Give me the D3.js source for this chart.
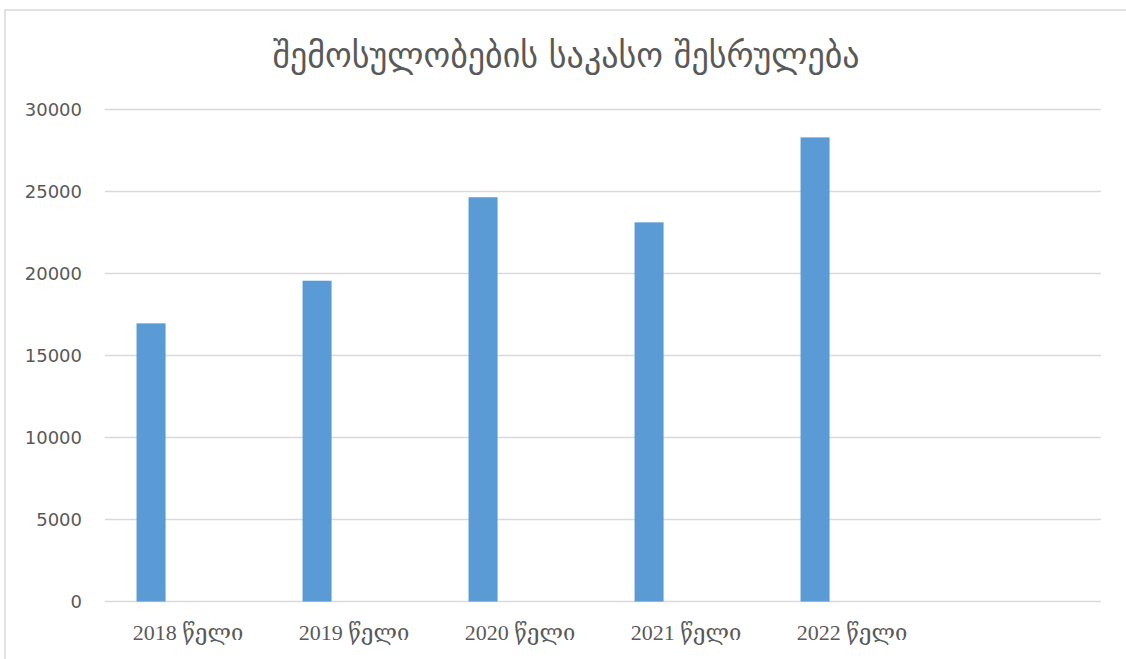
<!DOCTYPE html>
<html>
<head>
<meta charset="utf-8">
<script src="https://cdn.jsdelivr.net/npm/d3@7"></script>
<style>
  body { margin: 0; background: #fff; }
  svg { display: block; }
</style>
</head>
<body>
<div id="chart"></div>
<script>
const title = "შემოსულობების საკასო შესრულება";
// last slot is an empty category, as in the source workbook
const categories = ["2018 წელი", "2019 წელი", "2020 წელი", "2021 წელი", "2022 წელი", ""];
const values = [16960, 19560, 24650, 23120, 28300, null];
const yTicks = [0, 5000, 10000, 15000, 20000, 25000, 30000];

const W = 1126, H = 659;
const barColor = "#5b9bd5";
const gridColor = "#d9d9d9";
const textColor = "#595959";
const margins = { top: 109.5, bottom: 57.5, left: 105, right: 25 };

const svg = d3.select("#chart").append("svg")
  .attr("width", W)
  .attr("height", H);

// chart frame
svg.append("rect")
  .attr("x", 5).attr("y", 10)
  .attr("width", W + 20).attr("height", H + 20)
  .attr("fill", "#fff")
  .attr("stroke", gridColor)
  .attr("stroke-width", 1.5);

const x = d3.scaleBand()
  .domain(d3.range(categories.length))
  .range([margins.left, W - margins.right])
  .padding(0);

const y = d3.scaleLinear()
  .domain([0, 30000])
  .range([H - margins.bottom, margins.top]);

// bar sits left of the slot centre (other series are empty)
const barOffset = x.bandwidth() * 0.19;
const barWidth = x.bandwidth() * 0.175;

// gridlines
svg.append("g")
  .selectAll("line")
  .data(yTicks)
  .join("line")
  .attr("x1", margins.left)
  .attr("x2", W - margins.right)
  .attr("y1", d => y(d))
  .attr("y2", d => y(d))
  .attr("stroke", gridColor)
  .attr("stroke-width", 1.5);

// y labels
svg.append("g")
  .selectAll("text")
  .data(yTicks)
  .join("text")
  .attr("x", 82)
  .attr("y", d => y(d))
  .attr("dy", "0.36em")
  .attr("text-anchor", "end")
  .attr("fill", textColor)
  .style("font-family", "'DejaVu Sans', sans-serif")
  .style("font-size", "18px")
  .text(d => d);

// bars
svg.append("g")
  .selectAll("rect")
  .data(values.map((v, i) => ({ v, i })).filter(d => d.v != null))
  .join("rect")
  .attr("x", d => x(d.i) + barOffset)
  .attr("y", d => y(d.v))
  .attr("width", barWidth)
  .attr("height", d => y(0) - y(d.v))
  .attr("fill", barColor);

// x labels
svg.append("g")
  .selectAll("text")
  .data(categories.map((c, i) => ({ c, i })))
  .join("text")
  .attr("x", d => x(d.i) + x.bandwidth() / 2)
  .attr("y", 640)
  .attr("text-anchor", "middle")
  .attr("fill", textColor)
  .style("font-family", "'Liberation Serif', 'DejaVu Serif', serif")
  .style("font-size", "22px")
  .text(d => d.c);

// title
svg.append("text")
  .attr("x", 566)
  .attr("y", 67)
  .attr("text-anchor", "middle")
  .attr("fill", textColor)
  .style("font-family", "'DejaVu Sans', sans-serif")
  .style("font-size", "34px")
  .text(title);
</script>
</body>
</html>
